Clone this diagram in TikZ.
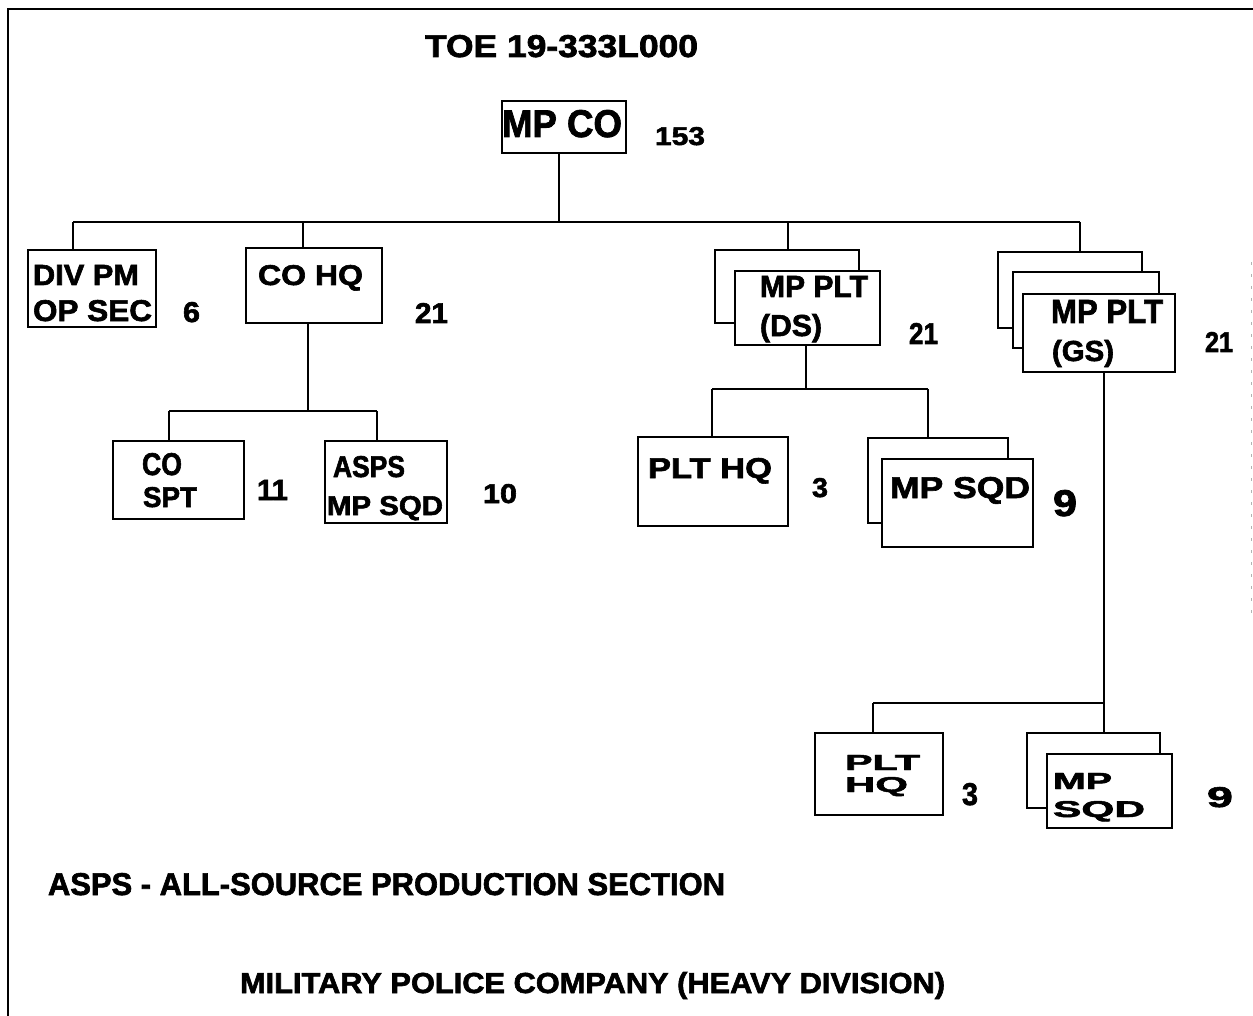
\documentclass[tikz,border=0pt]{standalone}
\usepackage{fontspec}
\setmainfont{Liberation Sans}[BoldFeatures={FakeBold=2}]
\usepackage{graphicx}
\newcommand\fitt[3]{\resizebox{#1pt}{#2pt}{\bfseries #3}}
\tikzset{
  box/.style={draw, fill=white, line width=1.8pt, inner sep=0pt, outer sep=0pt},
  conn/.style={line width=1.8pt},
  lbl/.style={inner sep=0pt, outer sep=0pt, anchor=base west},
}
\newcommand\boxn[5]{\node[box, minimum width={(#4-#2)*1pt}, minimum height={(#5-#3)*1pt}] (#1) at ({(#2+#4)/2},{(#3+#5)/2}) {};}
\begin{document}
\begin{tikzpicture}[x=1pt,y=-1pt]
\useasboundingbox (0,0) rectangle (1253,1016);
% frame
\draw[line width=2.2pt] (8,1016) -- (8,9) -- (1253,9);
\draw[line width=0.8pt, gray!60, dash pattern=on 3pt off 9pt] (1251,262) -- (1251,620);

% boxes
\boxn{mpco}{502}{101}{626}{153}
\boxn{divpm}{28}{250}{156}{327}
\boxn{cohq}{246}{248}{382}{323}
\boxn{cospt}{113}{441}{244}{519}
\boxn{asps}{325}{441}{447}{523}
\boxn{dsb}{715}{250}{859}{323}
\boxn{dsf}{735}{271}{880}{345}
\boxn{plthqa}{638}{437}{788}{526}
\boxn{sqdab}{868}{438}{1008}{523}
\boxn{sqdaf}{882}{459}{1033}{547}
\boxn{gsb1}{998}{252}{1142}{328}
\boxn{gsb2}{1013}{272}{1159}{348}
\boxn{gsf}{1023}{294}{1175}{372}
\boxn{plthqb}{815}{733}{943}{815}
\boxn{sqdbb}{1027}{733}{1160}{808}
\boxn{sqdbf}{1047}{754}{1172}{828}

% connectors
\coordinate (busL) at (73,222);
\coordinate (busR) at (1080,222);
\draw[conn] (busL) -- (busR);
\draw[conn] ([xshift=-5pt]mpco.south) -- ([xshift=-5pt]mpco.south |- busL);
\draw[conn] (busL) -- (busL |- divpm.north);
\coordinate (d2) at (303,222);
\draw[conn] (d2) -- (d2 |- cohq.north);
\coordinate (d3) at (788,222);
\draw[conn] (d3) -- (d3 |- dsb.north);
\draw[conn] (busR) -- (busR |- gsb1.north);

\coordinate (c1) at (308,411);
\coordinate (c1L) at (169,411);
\coordinate (c1R) at (377,411);
\draw[conn] (c1 |- cohq.south) -- (c1);
\draw[conn] (c1L) -- (c1R);
\draw[conn] (c1L) -- (c1L |- cospt.north);
\draw[conn] (c1R) -- (c1R |- asps.north);

\coordinate (c2) at (806,389);
\coordinate (c2L) at (712,389);
\coordinate (c2R) at (928,389);
\draw[conn] (c2 |- dsf.south) -- (c2);
\draw[conn] (c2L) -- (c2R);
\draw[conn] (c2L) -- (c2L |- plthqa.north);
\draw[conn] (c2R) -- (c2R |- sqdab.north);

\coordinate (c3) at (1104,703);
\coordinate (c3L) at (873,703);
\draw[conn] (c3 |- gsf.south) -- (c3);
\draw[conn] (c3L) -- (c3);
\draw[conn] (c3L) -- (c3L |- plthqb.north);
\draw[conn] (c3) -- (c3 |- sqdbb.north);

% texts
\node[lbl] (title) at (425,57) {\fitt{273}{22}{TOE 19-333L000}};
\node[lbl] (tmpco) at (502,137) {\fitt{120}{27}{MP CO}};
\node[lbl] (n153) at (655,145) {\fitt{50}{18}{153}};
\node[lbl] (tdiv1) at (33,285) {\fitt{106}{20}{DIV PM}};
\node[lbl] (tdiv2) at (33,321) {\fitt{119}{21}{OP SEC}};
\node[lbl] (n6) at (183,322) {\fitt{17}{20}{6}};
\node[lbl] (tcohq) at (258,285) {\fitt{105}{20}{CO HQ}};
\node[lbl] (n21a) at (415,323) {\fitt{33}{20}{21}};
\node[lbl] (tco) at (142,475) {\fitt{40}{22}{CO}};
\node[lbl] (tspt) at (143,507) {\fitt{54}{20}{SPT}};
\node[lbl] (n11) at (257,500) {\fitt{31}{20}{11}};
\node[lbl] (tasps) at (333,477) {\fitt{72}{21}{ASPS}};
\node[lbl] (tmpsqd) at (327,515) {\fitt{116}{19}{MP SQD}};
\node[lbl] (n10) at (483,503) {\fitt{34}{19}{10}};
\node[lbl] (tds1) at (760,297) {\fitt{108}{21}{MP PLT}};
\node[lbl] (tds2) at (760,336) {\fitt{62}{22}{(DS)}};
\node[lbl] (n21b) at (909,344) {\fitt{29}{21}{21}};
\node[lbl] (tplthqa) at (648,478) {\fitt{124}{20}{PLT HQ}};
\node[lbl] (n3a) at (812,497) {\fitt{16}{19}{3}};
\node[lbl] (tsqda) at (890,498) {\fitt{140}{21}{MP SQD}};
\node[lbl] (n9a) at (1053,516) {\fitt{24}{26}{9}};
\node[lbl] (tgs1) at (1051,323) {\fitt{112}{23}{MP PLT}};
\node[lbl] (tgs2) at (1052,361) {\fitt{62}{21}{(GS)}};
\node[lbl] (n21c) at (1205,352) {\fitt{28}{20}{21}};
\node[lbl] (tplt) at (845,770) {\fitt{75}{15}{PLT}};
\node[lbl] (thq) at (845,792) {\fitt{63}{15}{HQ}};
\node[lbl] (n3b) at (962,805) {\fitt{16}{22}{3}};
\node[lbl] (tmp) at (1053,789) {\fitt{59}{16}{MP}};
\node[lbl] (tsqd) at (1053,817) {\fitt{92}{16}{SQD}};
\node[lbl] (n9b) at (1207,807) {\fitt{26}{20}{9}};
\node[lbl] (legend) at (48,895) {\fitt{677}{22}{ASPS - ALL-SOURCE PRODUCTION SECTION}};
\node[lbl] (caption) at (240,993) {\fitt{705}{21}{MILITARY POLICE COMPANY (HEAVY DIVISION)}};
\end{tikzpicture}
\end{document}
